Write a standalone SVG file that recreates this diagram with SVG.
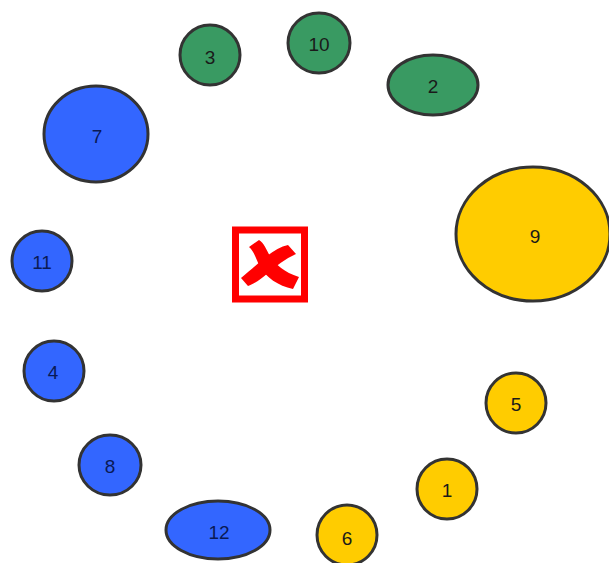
<svg xmlns="http://www.w3.org/2000/svg" width="609" height="563" viewBox="0 0 609 563">
<style>
.n{stroke:#333;stroke-width:3}
.g{fill:#399a62}
.b{fill:#3366ff}
.y{fill:#ffcc00}
text{font-family:"Liberation Sans",Arial,sans-serif;font-size:19px;text-anchor:middle;dominant-baseline:central;fill:#1a1a1a}
.bt{fill:#0a1a55}
</style>
<rect width="609" height="563" fill="#fff"/>
<g id="connectors"></g>
<g id="n3"><ellipse class="n g" cx="210" cy="55" rx="30" ry="30"/><text x="210" y="57">3</text></g>
<g id="n10"><ellipse class="n g" cx="319" cy="43" rx="31" ry="30"/><text x="319" y="44">10</text></g>
<g id="n2"><ellipse class="n g" cx="433" cy="85" rx="45" ry="30"/><text x="433" y="86">2</text></g>
<g id="n9"><ellipse class="n y" cx="533" cy="234" rx="77" ry="67"/><text x="535" y="236">9</text></g>
<g id="n5"><ellipse class="n y" cx="516" cy="403" rx="30" ry="30"/><text x="516" y="404">5</text></g>
<g id="n1"><ellipse class="n y" cx="447" cy="489" rx="30" ry="30"/><text x="447" y="490">1</text></g>
<g id="n6"><ellipse class="n y" cx="347" cy="535" rx="30" ry="30"/><text x="347" y="538">6</text></g>
<g id="n12"><ellipse class="n b" cx="218" cy="530" rx="52" ry="29"/><text class="bt" x="219" y="532">12</text></g>
<g id="n8"><ellipse class="n b" cx="110" cy="465" rx="31" ry="30"/><text class="bt" x="110" y="466">8</text></g>
<g id="n4"><ellipse class="n b" cx="54" cy="371" rx="30" ry="30"/><text class="bt" x="53" y="372">4</text></g>
<g id="n11"><ellipse class="n b" cx="42" cy="261" rx="30" ry="30"/><text class="bt" x="42" y="262">11</text></g>
<g id="n7"><ellipse class="n b" cx="96" cy="134" rx="52" ry="48"/><text class="bt" x="97" y="136">7</text></g>
<g id="broken">
<rect x="235.5" y="230" width="69" height="69" fill="#fff" stroke="#ff0000" stroke-width="7"/>
<path d="M249,247 L259,240 C264,243 266,249 270,256 C276,265 284,272 299,277 L293,289 C278,286 266,277 260,267 C256,259 254,251 249,247 Z" fill="#ff0000"/>
<path d="M288,245 L296,254 C285,259 276,266 268,273 C261,279 254,284 248,286 L241,278 C248,272 254,267 261,261 C270,253 279,247 288,245 Z" fill="#ff0000"/>
</g>
</svg>
